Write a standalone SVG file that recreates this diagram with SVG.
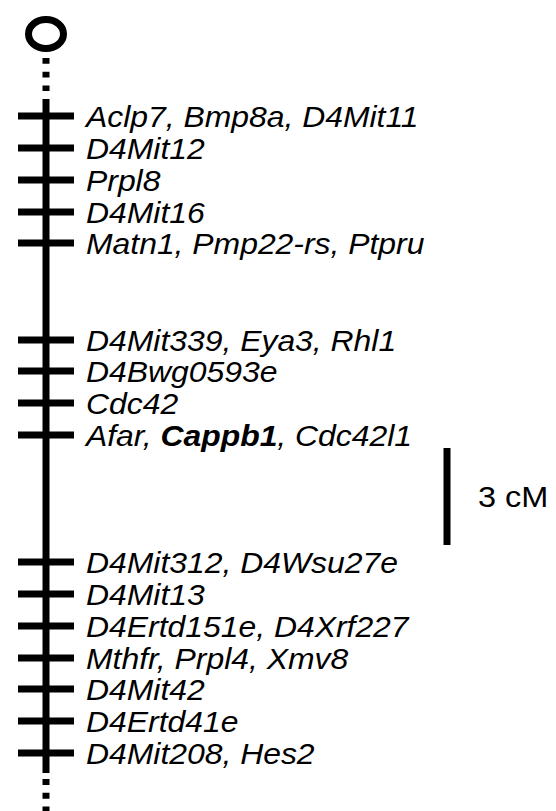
<svg xmlns="http://www.w3.org/2000/svg" width="556" height="811" viewBox="0 0 556 811">
<style>
.lbl{font-family:"Liberation Sans",Arial,sans-serif;font-size:29px;font-style:italic;fill:#000}
.b{font-weight:bold}
.tick{stroke:#000;stroke-width:7}
.chr{stroke:#000;stroke-width:7;fill:none}
</style>
<rect width="556" height="811" fill="#fff"/>
<g id="chromosome">
<ellipse cx="46" cy="34" rx="17.5" ry="14.5" fill="none" stroke="#000" stroke-width="7"/>
<line class="chr" x1="46" y1="58" x2="46" y2="99" stroke-dasharray="5.7 8"/>
<line class="chr" x1="46" y1="99" x2="46" y2="773"/>
<line class="chr" x1="46" y1="779" x2="46" y2="811" stroke-dasharray="6 7.7"/>
</g>
<g id="markers">
<g id="m1"><line class="tick" x1="18" y1="116" x2="74" y2="116"/><text class="lbl" transform="translate(86,127) scale(1.1,1)">Aclp7, Bmp8a, D4Mit11</text></g>
<g id="m2"><line class="tick" x1="18" y1="148" x2="74" y2="148"/><text class="lbl" transform="translate(86,159) scale(1.1,1)">D4Mit12</text></g>
<g id="m3"><line class="tick" x1="18" y1="180" x2="74" y2="180"/><text class="lbl" transform="translate(86,191) scale(1.1,1)">Prpl8</text></g>
<g id="m4"><line class="tick" x1="18" y1="212" x2="74" y2="212"/><text class="lbl" transform="translate(86,223) scale(1.1,1)">D4Mit16</text></g>
<g id="m5"><line class="tick" x1="18" y1="243" x2="74" y2="243"/><text class="lbl" transform="translate(86,254) scale(1.1,1)">Matn1, Pmp22-rs, Ptpru</text></g>
<g id="m6"><line class="tick" x1="18" y1="340" x2="74" y2="340"/><text class="lbl" transform="translate(86,351) scale(1.1,1)">D4Mit339, Eya3, Rhl1</text></g>
<g id="m7"><line class="tick" x1="18" y1="371" x2="74" y2="371"/><text class="lbl" transform="translate(86,382) scale(1.1,1)">D4Bwg0593e</text></g>
<g id="m8"><line class="tick" x1="18" y1="403" x2="74" y2="403"/><text class="lbl" transform="translate(86,414) scale(1.1,1)">Cdc42</text></g>
<g id="m9"><line class="tick" x1="18" y1="435" x2="74" y2="435"/><text class="lbl" transform="translate(86,446) scale(1.1,1)">Afar, <tspan class="b">Cappb1</tspan>, Cdc42l1</text></g>
<g id="m10"><line class="tick" x1="18" y1="562" x2="74" y2="562"/><text class="lbl" transform="translate(86,573) scale(1.1,1)">D4Mit312, D4Wsu27e</text></g>
<g id="m11"><line class="tick" x1="18" y1="594" x2="74" y2="594"/><text class="lbl" transform="translate(86,605) scale(1.1,1)">D4Mit13</text></g>
<g id="m12"><line class="tick" x1="18" y1="626" x2="74" y2="626"/><text class="lbl" transform="translate(86,637) scale(1.1,1)">D4Ertd151e, D4Xrf227</text></g>
<g id="m13"><line class="tick" x1="18" y1="658" x2="74" y2="658"/><text class="lbl" transform="translate(86,669) scale(1.1,1)">Mthfr, Prpl4, Xmv8</text></g>
<g id="m14"><line class="tick" x1="18" y1="689" x2="74" y2="689"/><text class="lbl" transform="translate(86,700) scale(1.1,1)">D4Mit42</text></g>
<g id="m15"><line class="tick" x1="18" y1="721" x2="74" y2="721"/><text class="lbl" transform="translate(86,732) scale(1.1,1)">D4Ertd41e</text></g>
<g id="m16"><line class="tick" x1="18" y1="753" x2="74" y2="753"/><text class="lbl" transform="translate(86,764) scale(1.1,1)">D4Mit208, Hes2</text></g>
</g>
<g id="scale">
<line x1="447" y1="448" x2="447" y2="545" stroke="#000" stroke-width="7"/>
<text transform="translate(478,507) scale(1.12,1)" style="font-family:'Liberation Sans',Arial,sans-serif;font-size:29px;fill:#000">3 cM</text>
</g>
</svg>
